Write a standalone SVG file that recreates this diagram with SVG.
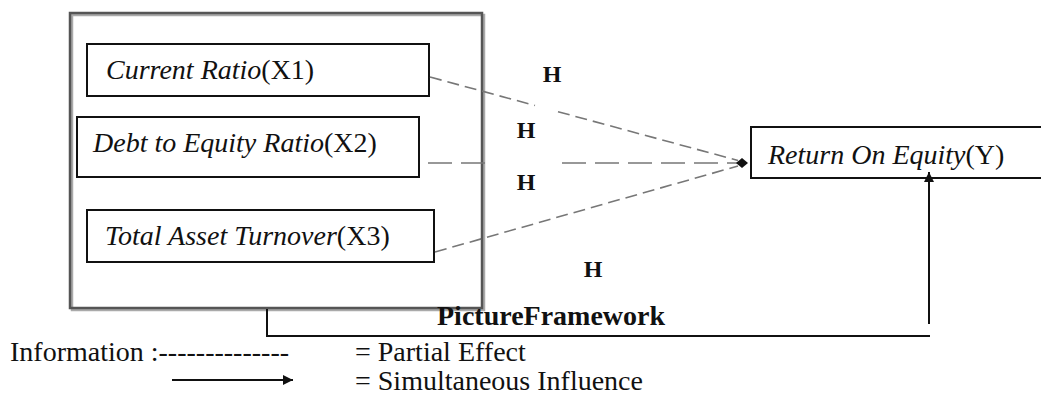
<svg xmlns="http://www.w3.org/2000/svg" width="1041" height="396" viewBox="0 0 1041 396">
  <style>
    .lbl { font-family: "Liberation Serif", "Times New Roman", serif; font-size: 28px; fill: #111; }
    .it { font-style: italic; }
    .hyp { font-family: "Liberation Serif", "Times New Roman", serif; font-size: 24px; font-weight: bold; fill: #111; text-anchor: middle; }
    .box { fill: #fff; stroke: #111; stroke-width: 2; }
    .dash { fill: none; stroke: #777; stroke-width: 1.6; }
    .solid { fill: none; stroke: #111; stroke-width: 2; }
  </style>
  <defs>
    <marker id="arrowHead" viewBox="0 0 10 10" refX="10" refY="5" markerWidth="5" markerHeight="5" orient="auto" markerUnits="strokeWidth">
      <path d="M0,0 L10,5 L0,10 Z" fill="#111"/>
    </marker>
  </defs>
  <rect width="1041" height="396" fill="#fff"/>

  <!-- independent variables container -->
  <g id="container">
    <rect x="72" y="15" width="412" height="295" fill="none" stroke="#aaa" stroke-width="2.5"/>
    <rect x="70" y="13" width="412" height="295" fill="none" stroke="#555" stroke-width="2.5"/>
  </g>

  <g id="x1">
    <rect class="box" x="87" y="44" width="342" height="52"/>
    <text class="lbl" x="106" y="79"><tspan class="it">Current Ratio</tspan>(X1)</text>
  </g>
  <g id="x2">
    <rect class="box" x="77" y="117" width="342" height="60"/>
    <text class="lbl" x="93" y="152"><tspan class="it">Debt to Equity Ratio</tspan>(X2)</text>
  </g>
  <g id="x3">
    <rect class="box" x="87" y="210" width="347" height="52"/>
    <text class="lbl" x="105" y="245"><tspan class="it">Total Asset Turnover</tspan>(X3)</text>
  </g>
  <g id="y">
    <rect class="box" x="751" y="127" width="300" height="51"/>
    <text class="lbl" x="768" y="164"><tspan class="it">Return On Equity</tspan>(Y)</text>
  </g>

  <!-- connectors -->
  <g id="connectors">
    <line class="dash" x1="430" y1="77" x2="535" y2="105.5" stroke-dasharray="12 6"/>
    <line class="dash" x1="558" y1="111.7" x2="738" y2="160.5" stroke-dasharray="12 6"/>
    <line class="dash" x1="428" y1="163" x2="487" y2="163" stroke-dasharray="24 9"/>
    <line class="dash" x1="562" y1="163" x2="738" y2="163" stroke-dasharray="24 9"/>
    <line class="dash" x1="435" y1="252" x2="738" y2="166" stroke-dasharray="12 6"/>
    <path d="M736,163 L742,158 L748,163 L742,168 Z" fill="#111"/>
    <path class="solid" d="M267,309 V336 H930"/>
    <line class="solid" x1="929" y1="324" x2="929" y2="172" marker-end="url(#arrowHead)"/>
  </g>

  <g id="hypotheses">
    <text class="hyp" x="552" y="82">H</text>
    <text class="hyp" x="526" y="138">H</text>
    <text class="hyp" x="526" y="190">H</text>
    <text class="hyp" x="593" y="277">H</text>
  </g>

  <text class="lbl" x="437" y="325" font-weight="bold">PictureFramework</text>

  <g id="legend">
    <text class="lbl" x="10" y="361">Information :--------------</text>
    <text class="lbl" x="355" y="361">= Partial Effect</text>
    <line class="solid" x1="172" y1="380" x2="293" y2="380" marker-end="url(#arrowHead)"/>
    <text class="lbl" x="355" y="390">= Simultaneous Influence</text>
  </g>
</svg>
